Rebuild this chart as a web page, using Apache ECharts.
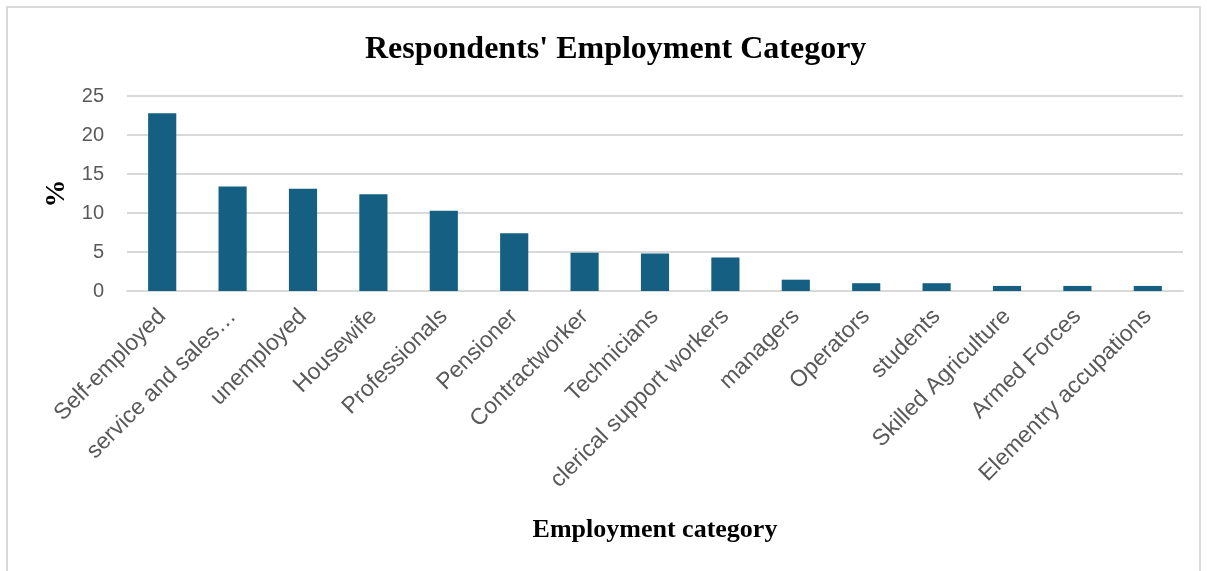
<!DOCTYPE html>
<html>
<head>
<meta charset="utf-8">
<script src="https://cdn.jsdelivr.net/npm/echarts@6/dist/echarts.min.js"></script>
<style>
html,body{margin:0;padding:0;background:#fff;}
#chart{width:1207px;height:571px;}
</style>
</head>
<body>
<div id="chart"></div>
<script>
const categories = ["Self-employed","service and sales\u2026","unemployed","Housewife","Professionals","Pensioner","Contractworker","Technicians","clerical support workers","managers","Operators","students","Skilled Agriculture","Armed Forces","Elementry accupations"];
const values = [22.8, 13.4, 13.1, 12.4, 10.3, 7.4, 4.9, 4.8, 4.3, 1.45, 1.0, 1.0, 0.65, 0.65, 0.65];
const yTicks = [0, 5, 10, 15, 20, 25];

const chart = echarts.init(document.getElementById('chart'));
chart.setOption({
  animation: false,
  backgroundColor: '#ffffff',
  graphic: [{
    type: 'rect',
    shape: { x: 7, y: 7, width: 1193, height: 600 },
    style: { fill: 'none', stroke: '#d9d9d9', lineWidth: 2 },
    silent: true
  }],
  title: {
    text: "Respondents' Employment Category",
    left: 360,
    top: 29,
    textStyle: { fontFamily: 'Liberation Serif', fontWeight: 'bold', fontSize: 32, color: '#000' }
  },
  grid: { left: 127, right: 24, top: 96, bottom: 280, containLabel: false },
  xAxis: {
    type: 'category',
    data: categories,
    name: 'Employment category',
    nameLocation: 'middle',
    nameGap: 226,
    nameTextStyle: { fontFamily: 'Liberation Serif', fontWeight: 'bold', fontSize: 26, color: '#000' },
    axisLine: { show: true, lineStyle: { color: '#d9d9d9', width: 2 } },
    axisTick: { show: false },
    axisLabel: {
      interval: 0,
      rotate: 45,
      margin: 22,
      fontFamily: 'Liberation Sans',
      fontSize: 23,
      color: '#595959'
    }
  },
  yAxis: {
    type: 'value',
    min: yTicks[0],
    max: yTicks[yTicks.length - 1],
    interval: 5,
    name: '%',
    nameLocation: 'middle',
    nameGap: 53,
    nameRotate: 90,
    nameTextStyle: { fontFamily: 'Liberation Serif', fontWeight: 'bold', fontSize: 28, color: '#000' },
    axisLine: { show: false },
    axisTick: { show: false },
    splitLine: { lineStyle: { color: '#d9d9d9', width: 2 } },
    axisLabel: { margin: 23, fontFamily: 'Liberation Sans', fontSize: 20, color: '#595959' }
  },
  series: [{
    type: 'bar',
    data: values,
    barWidth: '40%',
    itemStyle: { color: '#156082' }
  }]
});
</script>
</body>
</html>
